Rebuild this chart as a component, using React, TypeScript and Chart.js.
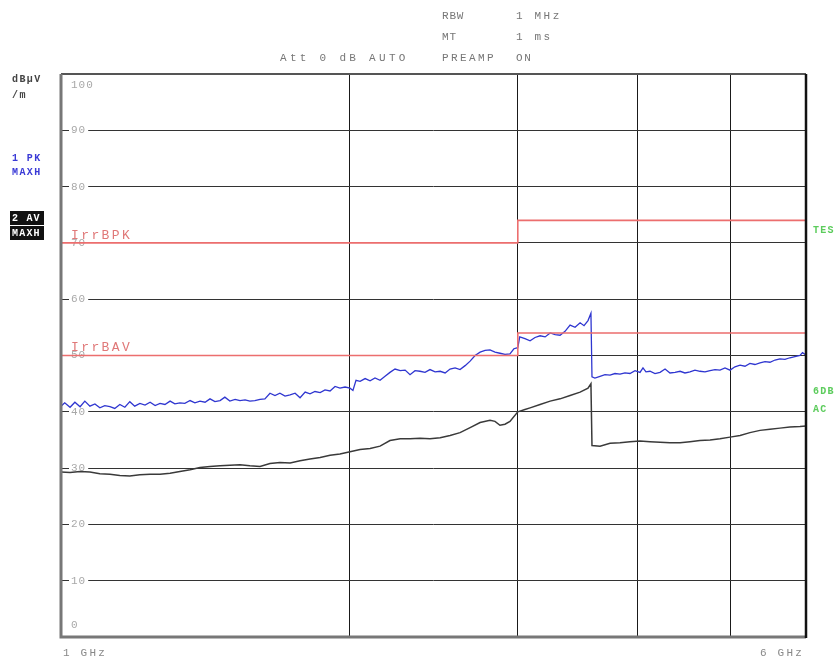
import React, { useEffect, useRef } from 'react';
import { Chart, registerables } from 'chart.js';

Chart.register(...registerables);

// Frequencies in GHz, levels in dBµV/m
const peakFreq = [
  1.000, 1.009, 1.022, 1.034, 1.047, 1.059, 1.072, 1.085, 1.098, 1.111,
  1.125, 1.138, 1.152, 1.166, 1.180, 1.194, 1.209, 1.224, 1.239, 1.254,
  1.269, 1.284, 1.300, 1.315, 1.331, 1.347, 1.364, 1.380, 1.397, 1.414,
  1.431, 1.448, 1.466, 1.483, 1.501, 1.520, 1.538, 1.557, 1.575, 1.594,
  1.614, 1.633, 1.653, 1.673, 1.693, 1.714, 1.735, 1.756, 1.777, 1.799,
  1.820, 1.842, 1.865, 1.887, 1.910, 1.933, 1.956, 1.980, 2.004, 2.018,
  2.033, 2.053, 2.078, 2.103, 2.128, 2.154, 2.180, 2.206, 2.233, 2.261,
  2.288, 2.315, 2.343, 2.371, 2.400, 2.429, 2.459, 2.489, 2.519, 2.549,
  2.580, 2.611, 2.643, 2.675, 2.707, 2.740, 2.773, 2.806, 2.840, 2.874,
  2.909, 2.944, 2.972, 3.000, 3.014, 3.052, 3.090, 3.127, 3.165, 3.204,
  3.243, 3.282, 3.321, 3.361, 3.402, 3.443, 3.485, 3.518, 3.552, 3.577,
  3.586, 3.611, 3.656, 3.700, 3.745, 3.790, 3.836, 3.882, 3.929, 3.977,
  4.025, 4.054, 4.083, 4.123, 4.173, 4.224, 4.275, 4.326, 4.379, 4.432,
  4.485, 4.539, 4.594, 4.649, 4.706, 4.764, 4.821, 4.879, 4.938, 4.998,
  5.058, 5.120, 5.181, 5.243, 5.307, 5.372, 5.437, 5.502, 5.569, 5.636,
  5.704, 5.772, 5.842, 5.914, 5.950, 6.000,
];
const peakLevel = [
  41.0, 41.6, 40.8, 41.7, 40.9, 41.9, 41.0, 41.4, 40.7, 41.1,
  40.9, 40.6, 41.3, 40.8, 41.8, 41.0, 41.5, 41.2, 41.7, 41.1,
  41.5, 41.3, 41.9, 41.4, 41.6, 41.5, 42.0, 41.6, 41.9, 41.7,
  42.3, 41.8, 42.0, 42.6, 41.9, 42.2, 42.0, 42.1, 41.9, 42.0,
  42.2, 42.3, 43.3, 42.9, 43.3, 42.8, 43.0, 43.3, 42.5, 43.5,
  43.2, 43.6, 43.4, 43.9, 43.7, 44.5, 44.2, 44.4, 44.2, 43.8,
  45.6, 45.4, 45.9, 45.5, 46.0, 45.6, 46.3, 47.0, 47.6, 47.3,
  47.4, 46.6, 47.3, 47.2, 47.0, 47.5, 47.1, 47.2, 46.9, 47.6,
  47.8, 47.5, 48.2, 49.0, 50.0, 50.6, 50.9, 51.0, 50.6, 50.4,
  50.2, 50.3, 51.2, 51.4, 53.3, 53.0, 52.6, 53.2, 53.5, 53.3,
  54.0, 53.7, 53.6, 54.3, 55.4, 55.0, 55.8, 55.3, 56.2, 57.5,
  46.2, 46.0, 46.3, 46.6, 46.5, 46.8, 46.7, 46.9, 46.8, 47.3,
  47.0, 47.8, 47.1, 47.2, 46.8, 47.0, 47.6, 46.9, 47.0, 47.2,
  46.9, 47.1, 47.4, 47.2, 47.1, 47.3, 47.5, 47.4, 47.8, 47.4,
  48.0, 48.3, 48.1, 48.6, 48.4, 48.7, 48.9, 48.8, 49.2, 49.4,
  49.3, 49.6, 49.8, 50.0, 50.5, 50.1,
];

const avgFreq = [
  1.000, 1.022, 1.047, 1.072, 1.098, 1.125, 1.152, 1.180, 1.209, 1.239,
  1.269, 1.300, 1.331, 1.364, 1.397, 1.431, 1.466, 1.501, 1.538, 1.575,
  1.614, 1.653, 1.693, 1.735, 1.777, 1.820, 1.865, 1.910, 1.956, 2.004,
  2.053, 2.103, 2.154, 2.206, 2.261, 2.315, 2.371, 2.429, 2.489, 2.549,
  2.611, 2.675, 2.740, 2.806, 2.840, 2.874, 2.909, 2.944, 3.000, 3.052,
  3.090, 3.165, 3.243, 3.321, 3.402, 3.485, 3.552, 3.577, 3.586, 3.656,
  3.745, 3.836, 3.929, 4.025, 4.123, 4.224, 4.326, 4.432, 4.539, 4.649,
  4.764, 4.879, 4.998, 5.120, 5.243, 5.372, 5.502, 5.636, 5.772, 5.914,
  6.000,
];
const avgLevel = [
  29.3, 29.2, 29.4, 29.3, 29.0, 28.9, 28.7, 28.6, 28.8, 28.9,
  28.9, 29.1, 29.4, 29.7, 30.1, 30.3, 30.4, 30.5, 30.6, 30.4,
  30.3, 30.8, 31.0, 30.9, 31.3, 31.6, 31.9, 32.3, 32.5, 32.9,
  33.3, 33.5, 33.9, 34.9, 35.2, 35.2, 35.3, 35.2, 35.4, 35.8,
  36.3, 37.2, 38.1, 38.5, 38.3, 37.6, 37.8, 38.3, 40.0, 40.4,
  40.7, 41.3, 41.9, 42.3, 42.9, 43.5, 44.2, 45.0, 34.0, 33.9,
  34.4, 34.5, 34.7, 34.8, 34.7, 34.6, 34.5, 34.5, 34.7, 34.9,
  35.0, 35.2, 35.5, 35.8, 36.3, 36.7, 36.9, 37.1, 37.3, 37.4,
  37.5,
];

const limitFreq = [1, 3, 3, 6];
const peakLimit = [70, 70, 74, 74];
const avgLimit = [50, 50, 54, 54];

const gridFreqs = [1, 2, 3, 4, 5, 6];
const yTickValues = [0, 10, 20, 30, 40, 50, 60, 70, 80, 90, 100];
const xTickValues = [1, 6];
const xTickLabels = ['1 GHz', '6 GHz'];

const MONO = '"Liberation Mono", "DejaVu Sans Mono", monospace';

function txt(ctx: CanvasRenderingContext2D, s: string, x: number, y: number, color: string, size: number, spacing: number, bold = false, align: CanvasTextAlign = 'left') {
  ctx.save();
  ctx.font = `${bold ? 'bold ' : ''}${size}px ${MONO}`;
  (ctx as any).letterSpacing = `${spacing}px`;
  ctx.fillStyle = color;
  ctx.textAlign = align;
  ctx.textBaseline = 'middle';
  ctx.fillText(s, x, y);
  ctx.restore();
}

function boxText(ctx: CanvasRenderingContext2D, s: string, x: number, y: number, w: number, h: number) {
  ctx.save();
  ctx.fillStyle = '#111';
  ctx.fillRect(x, y, w, h);
  ctx.restore();
  txt(ctx, s, x + 2, y + h / 2 + 0.5, '#fff', 10, 1.2, true);
}

const decorPlugin = {
  id: 'decor',
  beforeDatasetsDraw(chart: any) {
    const ctx = chart.ctx as CanvasRenderingContext2D;
    const y = chart.scales.y;
    const ca = chart.chartArea;
    yTickValues.forEach((v) => {
      let py = y.getPixelForValue(v);
      if (v === 100) py += 11;
      if (v === 0) py -= 12;
      const s = String(v);
      ctx.save();
      ctx.font = `11px ${MONO}`;
      (ctx as any).letterSpacing = '1px';
      const w = ctx.measureText(s).width;
      ctx.fillStyle = '#fff';
      ctx.fillRect(ca.left + 8, py - 5, w + 4, 10);
      ctx.restore();
      txt(ctx, s, ca.left + 10, py, '#a8a8a8', 11, 1);
    });
    // limit line names
    txt(ctx, 'IrrBPK', ca.left + 10, y.getPixelForValue(70) - 7, '#e07878', 13, 2.4);
    txt(ctx, 'IrrBAV', ca.left + 10, y.getPixelForValue(50) - 8, '#e07878', 13, 2.4);
  },
  afterDraw(chart: any) {
    const ctx = chart.ctx as CanvasRenderingContext2D;
    const ca = chart.chartArea;
    const x = chart.scales.x;
    // frame
    ctx.save();
    ctx.strokeStyle = '#555';
    ctx.lineWidth = 2;
    ctx.beginPath();
    ctx.moveTo(ca.left, ca.top);
    ctx.lineTo(ca.right, ca.top);
    ctx.stroke();
    ctx.strokeStyle = '#777';
    ctx.lineWidth = 3;
    ctx.beginPath();
    ctx.moveTo(ca.left, ca.top);
    ctx.lineTo(ca.left, ca.bottom);
    ctx.lineTo(ca.right, ca.bottom);
    ctx.stroke();
    ctx.strokeStyle = '#111';
    ctx.lineWidth = 2.5;
    ctx.beginPath();
    ctx.moveTo(ca.right, ca.top);
    ctx.lineTo(ca.right, ca.bottom + 1);
    ctx.stroke();
    ctx.restore();

    // header
    txt(ctx, 'RBW', 442, 16, '#777', 11, 0.8);
    txt(ctx, '1 MHz', 516, 16, '#777', 11, 2.6);
    txt(ctx, 'MT', 442, 37, '#777', 11, 0.8);
    txt(ctx, '1 ms', 516, 37, '#777', 11, 2.6);
    txt(ctx, 'Att 0 dB AUTO', 280, 58, '#777', 11, 3.3);
    txt(ctx, 'PREAMP', 442, 58, '#777', 11, 2.4);
    txt(ctx, 'ON', 516, 58, '#777', 11, 1.6);

    // left labels
    txt(ctx, 'dBµV', 12, 79, '#444', 10, 1.4, true);
    txt(ctx, '/m', 12, 95, '#444', 10, 1.4, true);
    txt(ctx, '1 PK', 12, 158, '#3a3ad6', 10, 1.4, true);
    txt(ctx, 'MAXH', 12, 172, '#3a3ad6', 10, 1.4, true);
    boxText(ctx, '2 AV', 10, 211, 34, 14);
    boxText(ctx, 'MAXH', 10, 226, 34, 14);

    // right labels
    txt(ctx, 'TES', 813, 230, '#5ccc5c', 10, 1.2, true);
    txt(ctx, '6DB', 813, 391, '#5ccc5c', 10, 1.2, true);
    txt(ctx, 'AC', 813, 409, '#5ccc5c', 10, 1.2, true);

    // x labels
    xTickValues.forEach((v, i) => {
      const px = x.getPixelForValue(v);
      txt(ctx, xTickLabels[i], i === 0 ? px + 2 : px - 2, 653, '#888', 11, 2.2, false, i === 0 ? 'left' : 'right');
    });
  },
};

export default function App() {
  const ref = useRef<HTMLCanvasElement | null>(null);
  useEffect(() => {
    if (!ref.current) return;
    const chart = new Chart(ref.current, {
      type: 'line',
      data: {
        datasets: [
          {
            label: 'Peak limit',
            data: limitFreq.map((f, i) => ({ x: f, y: peakLimit[i] })),
            borderColor: '#ec6e6e',
            borderWidth: 1.6,
            pointRadius: 0,
            tension: 0,
          },
          {
            label: 'Average limit',
            data: limitFreq.map((f, i) => ({ x: f, y: avgLimit[i] })),
            borderColor: '#ec6e6e',
            borderWidth: 1.6,
            pointRadius: 0,
            tension: 0,
          },
          {
            label: '2 AV MAXH',
            data: avgFreq.map((f, i) => ({ x: f, y: avgLevel[i] })),
            borderColor: '#3a3a3a',
            borderWidth: 1.5,
            pointRadius: 0,
            tension: 0,
          },
          {
            label: '1 PK MAXH',
            data: peakFreq.map((f, i) => ({ x: f, y: peakLevel[i] })),
            borderColor: '#2f36d0',
            borderWidth: 1.3,
            pointRadius: 0,
            tension: 0,
          },
        ],
      },
      options: {
        animation: false,
        responsive: false,
        parsing: false as any,
        layout: { padding: { left: 61, right: 32, top: 74, bottom: 27 } },
        plugins: { legend: { display: false }, tooltip: { enabled: false } },
        scales: {
          x: {
            type: 'logarithmic',
            min: 1,
            max: 6,
            afterBuildTicks: (scale: any) => {
              scale.ticks = gridFreqs.map((v) => ({ value: v }));
            },
            ticks: { display: false },
            grid: { color: '#1a1a1a', lineWidth: 1, drawTicks: false },
            border: { display: false },
          },
          y: {
            type: 'linear',
            min: 0,
            max: 100,
            afterBuildTicks: (scale: any) => {
              scale.ticks = yTickValues.map((v) => ({ value: v }));
            },
            ticks: { display: false },
            grid: { color: '#333', lineWidth: 1, drawTicks: false },
            border: { display: false },
          },
        },
      },
      plugins: [decorPlugin],
    });
    return () => chart.destroy();
  }, []);
  return (
    <div style={{ position: 'absolute', left: 0, top: 0, width: 838, height: 664, background: '#fff' }}>
      <canvas ref={ref} width={838} height={664} style={{ display: 'block' }} />
    </div>
  );
}
